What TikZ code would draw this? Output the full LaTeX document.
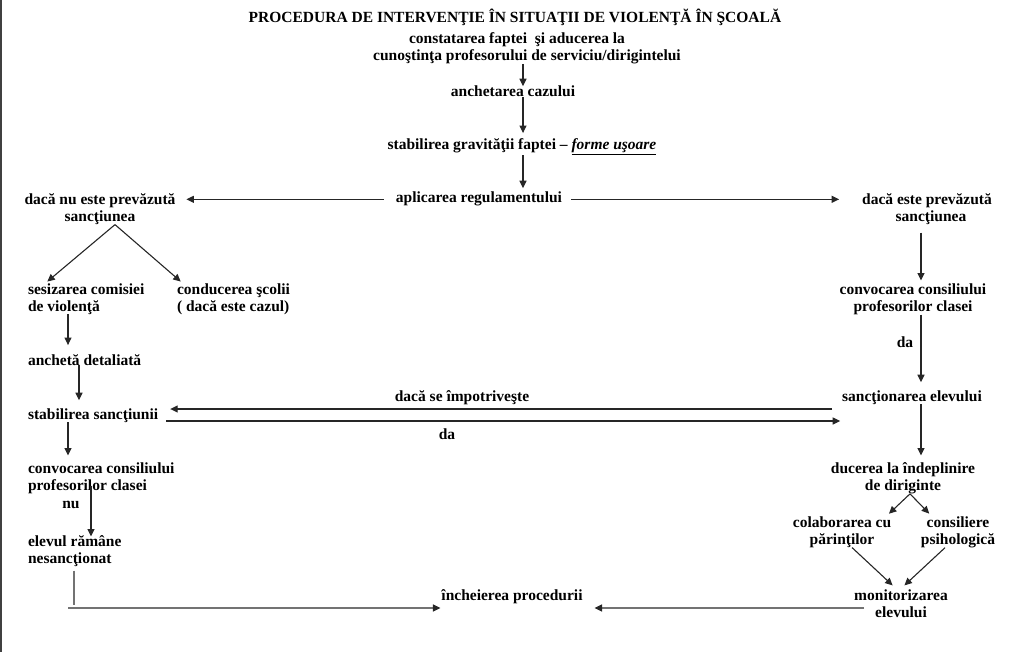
\documentclass[tikz,border=0pt]{standalone}
\usepackage{fontspec}
\setmainfont{Liberation Serif}
\usetikzlibrary{arrows.meta}
\begin{document}
\begin{tikzpicture}[x=1pt,y=-1pt,
  t/.style={font=\bfseries\fontsize{15.5}{17}\selectfont, inner sep=0pt, outer sep=0pt, align=center},
  tl/.style={t, align=left},
  arr/.style={-{Triangle[length=7.5pt,width=7pt]}, line width=1.1pt, black!85},
  garr/.style={-{Triangle[length=7.5pt,width=7pt,color=black!85]}, line width=1.1pt, draw=black!55},
  gline/.style={line width=1.3pt, black!55}]
\useasboundingbox (0,0) rectangle (1024,652);
\fill[black!75] (0,0) rectangle (1.5,652);

% ---- nodes ----
\node[t, anchor=base] (title) at (515,23) {PROCEDURA DE INTERVENŢIE ÎN SITUAŢII DE VIOLENŢĂ ÎN ŞCOALĂ};
\node[t, anchor=north] (n1) at (522,32.5) {constatarea faptei\ \ şi aducerea la\hspace*{10pt}\\\hspace*{10pt}cunoştinţa profesorului de serviciu/dirigintelui};
\node[t, anchor=base] (n2) at (513,97) {anchetarea cazului};
\node[t, anchor=base] (n3) at (522,150) {stabilirea gravităţii faptei -- \underline{\textit{forme uşoare}}};
\node[t, anchor=base] (n4) at (479,203) {aplicarea regulamentului};
\node[t, anchor=north] (L1) at (100,193.5) {dacă nu este prevăzută\\sancţiunea};
\node[t, anchor=north] (R1) at (929,193.5) {dacă este prevăzută\hspace*{4pt}\\\hspace*{4pt}sancţiunea};
\node[tl, anchor=north west] (L2) at (28,283.5) {sesizarea comisiei\\de violenţă};
\node[tl, anchor=north west] (L3) at (177,283.5) {conducerea şcolii\\( dacă este cazul)};
\node[tl, anchor=base west] (L4) at (28,365) {anchetă detaliată};
\node[tl, anchor=base west] (L5) at (28,419) {stabilirea sancţiunii};
\node[tl, anchor=north west] (L6) at (28,462.5) {convocarea consiliului\\profesorilor clasei};
\node[tl, anchor=north west] (L7) at (28,535.5) {elevul rămâne\\nesancţionat};
\node[t, anchor=base] (C) at (512,600) {încheierea procedurii};
\node[t, anchor=north] (R2) at (913,283.5) {convocarea consiliului\\profesorilor clasei};
\node[t, anchor=base] (R3) at (912,401) {sancţionarea elevului};
\node[t, anchor=north] (R4) at (903,462.5) {ducerea la îndeplinire\\de diriginte};
\node[t, anchor=north] (R5) at (842,516.5) {colaborarea cu\\părinţilor};
\node[t, anchor=north] (R6) at (958,516.5) {consiliere\\psihologică};
\node[t, anchor=north] (R7) at (901,589.5) {monitorizarea\\elevului};

% ---- connector labels ----
\node[t, anchor=base] (lda1) at (905,347) {da};
\node[t, anchor=base] (limp) at (462,401) {dacă se împotriveşte};
\node[t, anchor=base] (lda2) at (447,439) {da};
\node[t, anchor=base] (lnu) at (71,508) {nu};

% ---- connectors ----
\draw[arr] (n1.south -| 523,0) -- (n2.north -| 523,0);
\draw[arr, shorten >=6pt] (n2.south -| 523,0) -- (n3.north -| 523,0);
\draw[arr, shorten >=4pt] (n3.south -| 523,0) -- (n4.north -| 523,0);
\draw[arr, shorten <=12pt, shorten >=11pt] (n4.west) -- (n4.west -| L1.east);
\draw[arr, shorten <=9pt, shorten >=23pt] (n4.east) -- (n4.east -| R1.west);
\draw[arr, shorten >=3pt] (L1.south -| 115,0) -- (L2.north -| 45,0);
\draw[arr, shorten >=3pt] (L1.south -| 115,0) -- (L3.north -| 183,0);
\draw[arr, shorten >=9pt] (L2.south -| 68,0) -- (L4.north -| 68,0);
\draw[arr, shorten >=8pt] (L4.south -| 79,0) -- (L5.north -| 79,0);
\draw[arr, shorten >=7pt] (L5.south -| 68,0) -- (L6.north -| 68,0);
\draw[arr, shorten <=-8pt, shorten >=-1pt] (L6.south -| 91,0) -- (L7.north -| 91,0);
\coordinate (cj) at (74,608);
\draw[gline, shorten <=4pt] (L7.south -| 74,0) -- (74,605);
\draw[garr, shorten >=1pt] (68,608) -- (cj -| C.west);
\draw[garr, shorten <=-10pt, shorten >=12pt] (R7.west |- cj) -- (C.east |- cj);
\draw[arr, shorten <=8pt, shorten >=3pt] (R1.south -| 921,0) -- (R2.north -| 921,0);
\draw[arr, shorten >=8pt] (R2.south -| 921,0) -- (R3.north -| 921,0);
\draw[arr, shorten <=10pt, shorten >=12pt] (R3.west |- 0,409) -- (L5.east |- 0,409);
\draw[arr, shorten <=8pt, shorten >=2pt] (L5.east |- 0,421) -- (R3.west |- 0,421);
\draw[arr, shorten >=7pt] (R3.south -| 921,0) -- (R4.north -| 921,0);
\draw[arr, shorten >=4pt] (R4.south -| 910,0) -- (R5.north -| 886,0);
\draw[arr, shorten >=4pt] (R4.south -| 910,0) -- (R6.north -| 932,0);
\draw[arr, shorten >=6pt] (R5.south -| 852,0) -- (R7.north -| 897,0);
\draw[arr, shorten >=6pt] (R6.south -| 945,0) -- (R7.north -| 900,0);
\end{tikzpicture}
\end{document}
